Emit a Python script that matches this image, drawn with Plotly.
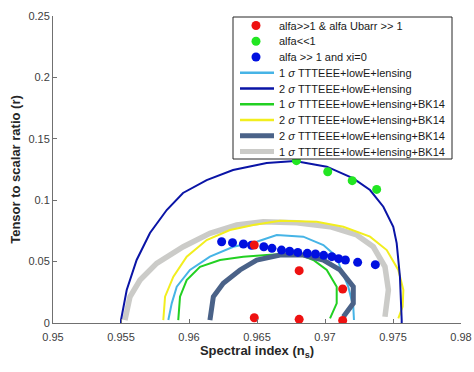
import plotly.graph_objects as go

# ---- data ----
red_ns = [0.9648, 0.9681, 0.9713, 0.9648, 0.9681, 0.9713]
red_r = [0.0635, 0.0426, 0.0277, 0.0043, 0.0030, 0.0020]

green_ns = [0.9679, 0.9702, 0.9720, 0.9738]
green_r = [0.1322, 0.1232, 0.1159, 0.1088]

blue_ns = [0.9624, 0.9632, 0.9640, 0.9646, 0.9655, 0.9661, 0.9668, 0.9674, 0.9680,
           0.9687, 0.9693, 0.9699, 0.9705, 0.9710, 0.9715, 0.9724, 0.9737]
blue_r = [0.0662, 0.0654, 0.0643, 0.0633, 0.0621, 0.0608, 0.0594, 0.0584, 0.0575,
          0.0567, 0.0562, 0.0551, 0.0540, 0.0524, 0.0513, 0.0494, 0.0475]

# 1 sigma TTTEEE+lowE+lensing (light blue)
c1_ns = [0.95848, 0.95873, 0.95910, 0.96007, 0.96154, 0.96326, 0.96498, 0.96645,
         0.96840, 0.96988, 0.97086, 0.97110, 0.97171, 0.97208, 0.97213]
c1_r = [0.0024, 0.0160, 0.0296, 0.0432, 0.0540, 0.0621, 0.0662, 0.0717,
        0.0703, 0.0635, 0.0540, 0.0458, 0.0296, 0.0133, 0.0024]

# 2 sigma TTTEEE+lowE+lensing (dark blue)
c2_ns = [0.95500, 0.95500, 0.95542, 0.95615, 0.95713, 0.95836, 0.95956, 0.96130,
         0.96324, 0.96571, 0.96779, 0.97013, 0.97208, 0.97331, 0.97429, 0.97502,
         0.97527, 0.97551, 0.97564, 0.97564]
c2_r = [0.0, 0.0024, 0.0269, 0.0513, 0.0733, 0.0920, 0.1059, 0.1164,
        0.1246, 0.1303, 0.1319, 0.1273, 0.1178, 0.1083, 0.0947, 0.0784,
        0.0651, 0.0377, 0.0024, 0.0]

# 1 sigma TTTEEE+lowE+lensing+BK14 (green)
b1_ns = [0.95921, 0.95934, 0.95983, 0.96081, 0.96228, 0.96399, 0.96571, 0.96792,
         0.96914, 0.97013, 0.97086, 0.97086, 0.97037]
b1_r = [0.0024, 0.0214, 0.0350, 0.0458, 0.0513, 0.0540, 0.0554, 0.0567,
        0.0513, 0.0432, 0.0296, 0.0160, 0.0038]

# 2 sigma TTTEEE+lowE+lensing+BK14 (yellow)
b2_ns = [0.95811, 0.95824, 0.95885, 0.95983, 0.96130, 0.96301, 0.96473, 0.96669,
         0.96939, 0.97135, 0.97331, 0.97454, 0.97539, 0.97576, 0.97571, 0.97539]
b2_r = [0.0024, 0.0214, 0.0377, 0.0540, 0.0676, 0.0757, 0.0798, 0.0833,
        0.0825, 0.0784, 0.0703, 0.0594, 0.0432, 0.0269, 0.0133, 0.0038]

# 2 sigma TTTEEE+lowE+lensing+BK14 (slate, thick)
s2_ns = [0.96154, 0.96179, 0.96252, 0.96375, 0.96498, 0.96669, 0.96840, 0.96988,
         0.97110, 0.97208, 0.97208, 0.97135]
s2_r = [0.0024, 0.0214, 0.0323, 0.0432, 0.0513, 0.0554, 0.0554, 0.0513,
        0.0432, 0.0296, 0.0160, 0.0051]

# 1 sigma TTTEEE+lowE+lensing+BK14 (grey, thick)
g1_ns = [0.95529, 0.95566, 0.95640, 0.95762, 0.95958, 0.96154, 0.96351, 0.96546,
         0.96792, 0.97037, 0.97233, 0.97355, 0.97441, 0.97466, 0.97441]
g1_r = [0.0024, 0.0214, 0.0350, 0.0486, 0.0621, 0.0730, 0.0798, 0.0825,
        0.0817, 0.0784, 0.0717, 0.0621, 0.0458, 0.0269, 0.0051]

x_ticks = [0.95, 0.955, 0.96, 0.965, 0.97, 0.975, 0.98]
x_ticklabels = ["0.95", "0.955", "0.96", "0.965", "0.97", "0.975", "0.98"]
y_ticks = [0, 0.05, 0.1, 0.15, 0.2, 0.25]
y_ticklabels = ["0", "0.05", "0.1", "0.15", "0.2", "0.25"]

sig = "<i>\u03c3</i>"
legend_labels = [
    "alfa>>1 & alfa Ubarr >> 1",
    "alfa<<1",
    "alfa >> 1 and xi=0",
    "1 " + sig + " TTTEEE+lowE+lensing",
    "2 " + sig + " TTTEEE+lowE+lensing",
    "1 " + sig + " TTTEEE+lowE+lensing+BK14",
    "2 " + sig + " TTTEEE+lowE+lensing+BK14",
    "2 " + sig + " TTTEEE+lowE+lensing+BK14",
    "1 " + sig + " TTTEEE+lowE+lensing+BK14",
]

FONT = "Arial, Liberation Sans, sans-serif"

# styles (legend order)
RED, GREEN_PT, BLUE_PT = "#ee1111", "#22e622", "#0010e0"
C1, C2, B1, B2, S2, G1 = "#46b4e6", "#0a14a6", "#22d022", "#f2ee1e", "#4a6288", "#cbcbc8"
legend_styles = [
    ("marker", RED, 9), ("marker", GREEN_PT, 9), ("marker", BLUE_PT, 9),
    ("line", C1, 2.5), ("line", C2, 2.5), ("line", B1, 2.5), ("line", B2, 2.5),
    ("line", S2, 5), ("line", G1, 5),
]

fig = go.Figure()

def line(x, y, name, color, width):
    fig.add_trace(go.Scatter(x=x, y=y, mode="lines", name=name,
                             line=dict(color=color, width=width), showlegend=False))

line(g1_ns, g1_r, legend_labels[8], G1, 5.5)
line(b2_ns, b2_r, legend_labels[6], B2, 2)
line(c2_ns, c2_r, legend_labels[4], C2, 2)
line(c1_ns, c1_r, legend_labels[3], C1, 2)
line(b1_ns, b1_r, legend_labels[5], B1, 2)
line(s2_ns, s2_r, legend_labels[7], S2, 5)

fig.add_trace(go.Scatter(x=blue_ns, y=blue_r, mode="markers", name=legend_labels[2],
                         marker=dict(color=BLUE_PT, size=9), showlegend=False))
fig.add_trace(go.Scatter(x=green_ns, y=green_r, mode="markers", name=legend_labels[1],
                         marker=dict(color=GREEN_PT, size=9), showlegend=False))
fig.add_trace(go.Scatter(x=red_ns, y=red_r, mode="markers", name=legend_labels[0],
                         marker=dict(color=RED, size=9), showlegend=False))

# ---- legend box drawn in paper coordinates (plot area is 408 x 307 px) ----
PW, PH = 408.0, 307.0
def px_x(p):  # pixel offset from plot left -> paper
    return p / PW
def px_y(p):  # pixel offset from plot top -> paper
    return 1 - p / PH

shapes = []
annotations = []
box_l, box_t, box_r, box_b = 180, 1, 399, 143
shapes.append(dict(type="rect", xref="paper", yref="paper",
                   x0=px_x(box_l), x1=px_x(box_r), y0=px_y(box_b), y1=px_y(box_t),
                   line=dict(color="#262626", width=1), fillcolor="white", layer="above"))
row0, row_step = 9.5, 15.75
for i, (lab, (kind, col, w)) in enumerate(zip(legend_labels, legend_styles)):
    yy = px_y(row0 + i * row_step)
    if kind == "line":
        shapes.append(dict(type="line", xref="paper", yref="paper",
                           x0=px_x(187), x1=px_x(221), y0=yy, y1=yy,
                           line=dict(color=col, width=w), layer="above"))
    else:
        shapes.append(dict(type="circle", xref="paper", yref="paper",
                           xsizemode="pixel", ysizemode="pixel",
                           xanchor=px_x(203), yanchor=yy,
                           x0=-4.5, x1=4.5, y0=-4.5, y1=4.5,
                           line=dict(color=col, width=0), fillcolor=col, layer="above"))
    annotations.append(dict(xref="paper", yref="paper", x=px_x(224), y=yy,
                            xanchor="left", yanchor="middle", showarrow=False,
                            text=lab, font=dict(family=FONT, size=11, color="#1a1a1a")))

axis_common = dict(showgrid=False, zeroline=False, showline=True, linecolor="#707070",
                   linewidth=1, ticks="inside", ticklen=4, tickcolor="#707070",
                   tickfont=dict(family=FONT, size=11, color="#404040"), mirror=False,
                   automargin=False)

fig.update_layout(
    width=474, height=372,
    margin=dict(l=53, r=13, t=16, b=49, autoexpand=False),
    paper_bgcolor="white", plot_bgcolor="white",
    font=dict(family=FONT, size=11, color="#262626"),
    xaxis=dict(range=[0.95, 0.98], tickvals=x_ticks, ticktext=x_ticklabels,
               ticklabelstandoff=4, ticklabeloverflow="allow",
               title=dict(text="<b>Spectral index (n<sub>s</sub>)</b>",
                          font=dict(family=FONT, size=13, color="#262626"), standoff=0),
               **axis_common),
    yaxis=dict(range=[0, 0.25], tickvals=y_ticks, ticktext=y_ticklabels,
               title=dict(text="<b>Tensor to scalar ratio (r)</b>",
                          font=dict(family=FONT, size=13, color="#262626"), standoff=4),
               **axis_common),
    shapes=shapes,
    annotations=annotations,
    showlegend=False,
)

fig.write_html("out.html", config={"displayModeBar": False},
               post_script="document.body.style.margin='0px';")
